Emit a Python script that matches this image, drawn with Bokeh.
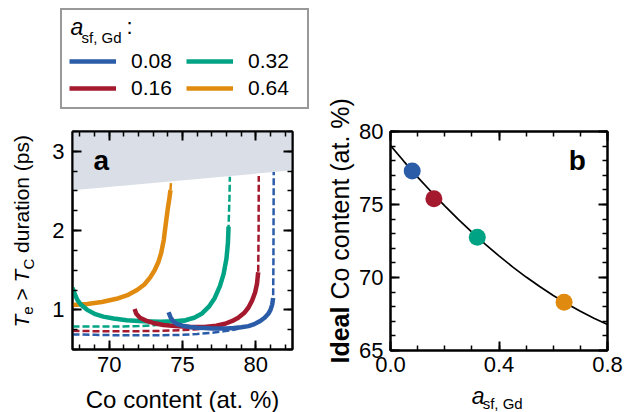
import numpy as np
from bokeh.plotting import figure
from bokeh.models import (Range1d, FixedTicker, LinearAxis, Label, Legend,
                          LegendItem, NumeralTickFormatter)
from bokeh.layouts import row, column
from bokeh.embed import file_html
from bokeh.resources import INLINE

FONT = "Liberation Sans"

# ---------------- data ----------------
a_sf_labels = ["0.08", "0.16", "0.32", "0.64"]
a_sf_values = [0.08, 0.16, 0.32, 0.64]
series_colors = ["#2b5ca8", "#a5192f", "#00a384", "#e08b10"]

# panel a : Te > Tc duration (ps) vs Co content (at. %)
blue_solid_x = [74.05, 74.2, 74.4, 74.65, 75.0, 75.5, 76.0, 76.5, 77.0, 77.5, 78.0, 78.5, 79.0,
                79.5, 79.9, 80.3, 80.6, 80.85, 81.0, 81.12, 81.18]
blue_solid_y = [0.97, 0.9, 0.85, 0.82, 0.8, 0.785, 0.775, 0.77, 0.765, 0.765, 0.765, 0.77, 0.78,
                0.795, 0.82, 0.86, 0.9, 0.95, 1.0, 1.07, 1.15]
blue_dash_x = [67.5, 69.0, 70.5, 72.0, 73.5, 75.0, 76.0, 77.0, 77.8, 78.5, 79.0, 79.5, 79.9,
               80.3, 80.6, 80.85, 81.0, 81.12, 81.18, 81.2, 81.22]
blue_dash_y = [0.69, 0.685, 0.68, 0.68, 0.68, 0.685, 0.695, 0.71, 0.73, 0.75, 0.77, 0.795, 0.82,
               0.86, 0.9, 0.95, 1.0, 1.07, 1.15, 1.6, 2.74]

red_solid_x = [71.73, 71.85, 72.1, 72.5, 73.0, 73.7, 74.5, 75.5, 76.5, 77.3, 77.9, 78.4, 78.8,
               79.2, 79.5, 79.75, 79.95, 80.08, 80.16]
red_solid_y = [1.01, 0.95, 0.9, 0.865, 0.835, 0.81, 0.795, 0.785, 0.785, 0.8, 0.825, 0.86, 0.9,
               0.96, 1.03, 1.12, 1.22, 1.33, 1.475]
red_dash_x = [67.5, 69.5, 71.5, 73.5, 75.0, 76.0, 76.8, 77.5, 78.0, 78.4, 78.8, 79.2, 79.5,
              79.75, 79.95, 80.08, 80.16, 80.19, 80.2]
red_dash_y = [0.735, 0.73, 0.73, 0.735, 0.745, 0.755, 0.77, 0.79, 0.825, 0.86, 0.9, 0.96, 1.03,
              1.12, 1.22, 1.33, 1.475, 2.0, 2.69]

green_solid_x = [67.5, 67.65, 67.85, 68.1, 68.5, 69.0, 69.6, 70.3, 71.2, 72.3, 73.5, 74.5, 75.2,
                 75.8, 76.3, 76.8, 77.2, 77.55, 77.8, 78.0, 78.1, 78.14]
green_solid_y = [1.28, 1.2, 1.12, 1.06, 1.0, 0.95, 0.915, 0.89, 0.87, 0.855, 0.85, 0.855, 0.87,
                 0.9, 0.95, 1.04, 1.15, 1.3, 1.45, 1.65, 1.85, 2.05]
green_dash_x = [67.5, 69.0, 70.5, 72.0, 73.0, 74.0, 74.8, 75.3, 75.8, 76.3, 76.8, 77.2, 77.55,
                77.8, 78.0, 78.1, 78.14, 78.2, 78.23]
green_dash_y = [0.79, 0.79, 0.79, 0.795, 0.805, 0.82, 0.84, 0.86, 0.9, 0.95, 1.04, 1.15, 1.3,
                1.45, 1.65, 1.85, 2.05, 2.4, 2.68]

orange_solid_x = [67.5, 68.5, 69.5, 70.5, 71.3, 71.9, 72.4, 72.8, 73.1, 73.35, 73.55, 73.72,
                  73.87, 74.0, 74.1, 74.18]
orange_solid_y = [1.06, 1.075, 1.1, 1.14, 1.19, 1.25, 1.32, 1.41, 1.5, 1.6, 1.72, 1.88,
                  2.1, 2.28, 2.4, 2.51]
orange_dash_x = [74.18, 74.22]
orange_dash_y = [2.51, 2.62]

shade_x = [67.5, 82.5]
shade_lower = [2.51, 2.76]
shade_upper = [3.25, 3.25]

xa_ticks = [70, 75, 80]
xa_minor = [68, 69, 70, 71, 72, 73, 74, 75, 76, 77, 78, 79, 80, 81, 82]
ya_ticks = [1, 2, 3]
ya_minor = [0.5, 0.75, 1.0, 1.25, 1.5, 1.75, 2.0, 2.25, 2.5, 2.75, 3.0, 3.25]

# panel b : ideal Co content vs a_sf,Gd
ideal_co = [77.3, 75.4, 72.75, 68.3]
fit_x = [0.0, 0.05, 0.1, 0.15, 0.2, 0.25, 0.3, 0.35, 0.4, 0.45, 0.5, 0.55, 0.6, 0.65, 0.7, 0.75, 0.8]
fit_y = [79.04, 77.94, 76.88, 75.87, 74.90, 73.98, 73.10, 72.27, 71.48, 70.73, 70.03, 69.38,
         68.77, 68.21, 67.69, 67.21, 66.78]

xb_ticks = [0.0, 0.4, 0.8]
xb_minor = [0.0, 0.1, 0.2, 0.3, 0.4, 0.5, 0.6, 0.7, 0.8]
yb_ticks = [65, 70, 75, 80]
yb_minor = [65, 66, 67, 68, 69, 70, 71, 72, 73, 74, 75, 76, 77, 78, 79, 80]

# ---------------- layout constants (page px) ----------------
XA0, XA1, YA0, YA1 = 67.5, 82.5, 0.5, 3.25
A_L, A_R, A_T, A_B = 72, 292, 131, 349
XB0, XB1, YB0, YB1 = 0.0, 0.8, 65.0, 80.0
B_L, B_R, B_T, B_B = 388, 607, 131, 350
PB_H = 382  # height of panel b figure; its x label strip fills the rest

TICK_SIZE = "22px"
AXLAB = 24
MID = 0.3465  # baseline offset from the "middle" anchor, in em


def a_xy(px, py):
    return (XA0 + (px - A_L) * (XA1 - XA0) / (A_R - A_L),
            YA0 + (A_B - py) * (YA1 - YA0) / (A_B - A_T))


def b_xy(px, py):
    return (XB0 + (px - B_L) * (XB1 - XB0) / (B_R - B_L),
            YB0 + (B_B - py) * (YB1 - YB0) / (B_B - B_T))


def page_xy(px, py):
    return (px, py)


# Arial / Liberation Sans advance widths (per 1000 em)
W_REG = {' ': 278, 'a': 556, 'b': 556, 'c': 500, 'd': 556, 'e': 556, 'f': 278, 'G': 778,
         'C': 722, 'I': 278, 'T': 611, 'i': 222, 'l': 222, 'n': 556, 'o': 556, 'p': 556,
         'r': 333, 's': 500, 't': 278, 'u': 556, '(': 333, ')': 333, '%': 889, '.': 278,
         ',': 278, ':': 278, '>': 584}
W_BOLD = {'I': 278, 'd': 611, 'e': 556, 'a': 556, 'l': 278}


def text_w(s, size, style="normal"):
    tab = W_BOLD if style == "bold" else W_REG
    return sum(tab.get(ch, W_REG.get(ch, 556)) for ch in s) * size / 1000.0


def add_pieces(p, conv, x0, y0, pieces, angle=0.0):
    """pieces: (text, size, style, baseline shift px). x0,y0: start of baseline (page px)."""
    pos = 0.0
    for text, size, style, shift in pieces:
        wstyle = "bold" if style == "bold" else "normal"
        lead = len(text) - len(text.lstrip(" "))
        start = pos + text_w(" " * lead, size)
        core = text.strip(" ")
        if angle == 0.0:
            px, py = x0 + start, y0 + shift - MID * size
        else:
            px, py = x0 + shift - MID * size, y0 - start
        x, y = conv(px, py)
        p.add_layout(Label(x=x, y=y, text=core, angle=angle, text_font=FONT,
                           text_font_size=f"{size}px", text_font_style=style,
                           text_color="black", text_align="left",
                           text_baseline="middle"))
        pos += text_w(text, size, wstyle)


def style_axis(ax, major, minor, show_labels=True, fmt=None, standoff=8):
    ax.ticker = FixedTicker(ticks=major, minor_ticks=minor)
    ax.axis_line_width = 2
    ax.axis_line_color = "black"
    ax.major_tick_in = 9
    ax.major_tick_out = 0
    ax.minor_tick_in = 5
    ax.minor_tick_out = 0
    ax.major_tick_line_width = 2
    ax.minor_tick_line_width = 1.5
    ax.major_tick_line_color = "black"
    ax.minor_tick_line_color = "black"
    ax.major_label_text_font = FONT
    ax.major_label_text_color = "black"
    if show_labels:
        ax.major_label_text_font_size = TICK_SIZE
        ax.major_label_standoff = standoff
    else:
        ax.major_label_text_color = None
        ax.major_label_text_font_size = "1px"
        ax.major_label_standoff = 0
    if fmt is not None:
        ax.formatter = fmt


def text_fig(width, height, left, top, bl=0, br=0, bt=0, bb=0):
    """Figure for text only; its frame is given page coordinates as data coordinates.
    bl/br/bt/bb are the borders (kept equal to those of aligned neighbour plots)."""
    f = figure(width=width, height=height,
               x_range=Range1d(left + bl, left + width - br),
               y_range=Range1d(top + height - bb, top + bt), output_backend="svg",
               toolbar_location=None, title=None,
               min_border_left=bl, min_border_right=br, min_border_top=bt, min_border_bottom=bb,
               x_axis_location=None, y_axis_location=None)
    f.grid.visible = False
    f.outline_line_color = None
    f.background_fill_color = "white"
    f.border_fill_color = "white"
    return f


solid_sets = [(blue_solid_x, blue_solid_y), (red_solid_x, red_solid_y),
              (green_solid_x, green_solid_y), (orange_solid_x, orange_solid_y)]
dash_sets = [(blue_dash_x, blue_dash_y), (red_dash_x, red_dash_y),
             (green_dash_x, green_dash_y), (orange_dash_x, orange_dash_y)]

# ---------------- legend figure (page 0..320 x 0..112) ----------------
leg_fig = text_fig(320, 112, 0, 0)
# the series are drawn here on ranges that keep them out of view; only the legend shows them
leg_fig.extra_x_ranges = {"series_x": Range1d(XA0, XA1)}
leg_fig.extra_y_ranges = {"series_y": Range1d(100, 200)}
leg_renderers = [leg_fig.line(sx, sy, line_color=c, line_width=4.5, line_cap="butt",
                              x_range_name="series_x", y_range_name="series_y")
                 for (sx, sy), c in zip(solid_sets, series_colors)]
items = [LegendItem(label=lab, renderers=[r]) for lab, r in zip(a_sf_labels, leg_renderers)]
legend = Legend(items=items, location=(60, 3), ncols=2, orientation="vertical",
                title=" ", title_text_font_size="22px", title_standoff=6,
                label_text_font=FONT, label_text_font_size="21px", label_text_color="black",
                glyph_width=47, glyph_height=20, label_standoff=15, label_height=20,
                label_width=52, spacing=3, padding=7, margin=0,
                border_line_color="#333333", border_line_width=2.5,
                background_fill_color="white", background_fill_alpha=0.0)
leg_fig.add_layout(legend)
add_pieces(leg_fig, page_xy, 70, 34, [("a", 23, "italic", 0)])
add_pieces(leg_fig, page_xy, 81, 34, [("sf, Gd", 15, "normal", 8)])
add_pieces(leg_fig, page_xy, 126, 34, [(":", 22, "normal", 0)])

# ---------------- y label figure for panel a (page 0..44 x 112..412) ----------------
ylab_a = text_fig(44, 300, 0, 112, bt=A_T - 112, bb=0)
add_pieces(ylab_a, page_xy, 28, 327,
           [("T", 21, "italic", 0), ("e", 15, "normal", 5), (" > ", 21, "normal", 0),
            ("T", 21, "italic", 0), ("C", 15, "normal", 5), (" duration (ps)", 21, "normal", 0)],
           angle=np.pi / 2)

# ---------------- panel a (page 44..320 x 112..384) ----------------
pa = figure(width=276, height=272, x_range=Range1d(XA0, XA1), y_range=Range1d(YA0, YA1),
            output_backend="svg", toolbar_location=None,
            min_border_left=A_L - 44, min_border_right=320 - A_R,
            min_border_top=A_T - 112, min_border_bottom=384 - A_B)
pa.xgrid.visible = False
pa.ygrid.visible = False
pa.outline_line_color = "black"
pa.outline_line_width = 2
pa.background_fill_color = "white"
pa.border_fill_color = "white"

style_axis(pa.xaxis[0], xa_ticks, xa_minor, standoff=7)
style_axis(pa.yaxis[0], ya_ticks, ya_minor, standoff=8)
top_a = LinearAxis()
right_a = LinearAxis()
style_axis(top_a, xa_ticks, xa_minor, show_labels=False)
style_axis(right_a, ya_ticks, ya_minor, show_labels=False)
pa.add_layout(top_a, "above")
pa.add_layout(right_a, "right")

pa.varea(x=shade_x, y1=shade_lower, y2=shade_upper, fill_color="#d9dee7")

for (dx, dy), col in zip(dash_sets, series_colors):
    pa.line(dx, dy, line_color=col, line_width=2.5, line_dash="7 3")

for i in [3, 2, 1, 0]:
    sx, sy = solid_sets[i]
    pa.line(sx, sy, line_color=series_colors[i], line_width=4.5,
            line_cap="butt", line_join="round")

add_pieces(pa, a_xy, 93, 170, [("a", 28, "bold", 0)])

# ---------------- x label figure for panel a (page 44..320 x 384..412) ----------------
xlab_a = text_fig(276, 28, 44, 384, bl=A_L - 44, br=320 - A_R)
xlab = "Co content (at. %)"
add_pieces(xlab_a, page_xy, (A_L + A_R) / 2 - text_w(xlab, AXLAB) / 2, 407,
           [(xlab, AXLAB, "normal", 0)])

# ---------------- y label figure for panel b (page 320..356 x 0..412) ----------------
YLB = 25
ylab_b = text_fig(36, 412, 320, 0)
add_pieces(ylab_b, page_xy, 348, 363,
           [("Ideal", YLB, "bold", 0), (" Co content (at. %)", YLB, "normal", 0)],
           angle=np.pi / 2)

# ---------------- panel b (page 356..626 x 0..PB_H) ----------------
pb = figure(width=270, height=PB_H, x_range=Range1d(XB0, XB1), y_range=Range1d(YB0, YB1),
            output_backend="svg", toolbar_location=None,
            min_border_left=B_L - 356, min_border_right=626 - B_R,
            min_border_top=B_T, min_border_bottom=PB_H - B_B)
pb.xgrid.visible = False
pb.ygrid.visible = False
pb.outline_line_color = "black"
pb.outline_line_width = 2
pb.background_fill_color = "white"
pb.border_fill_color = "white"

style_axis(pb.xaxis[0], xb_ticks, xb_minor, fmt=NumeralTickFormatter(format="0.0"), standoff=6)
style_axis(pb.yaxis[0], yb_ticks, yb_minor, standoff=7)
top_b = LinearAxis()
right_b = LinearAxis()
style_axis(top_b, xb_ticks, xb_minor, show_labels=False)
style_axis(right_b, yb_ticks, yb_minor, show_labels=False)
pb.add_layout(top_b, "above")
pb.add_layout(right_b, "right")

pb.line(fit_x, fit_y, line_color="black", line_width=1.7)
pb.scatter(a_sf_values, ideal_co, size=17, fill_color=series_colors, line_color=None)

add_pieces(pb, b_xy, 568, 170, [("b", 28, "bold", 0)])

# ---------------- x label figure for panel b (page 356..626 x PB_H..412) ----------------
xlab_b = text_fig(270, 412 - PB_H, 356, PB_H, bl=B_L - 356, br=626 - B_R)
add_pieces(xlab_b, page_xy, 470, 403, [("a", 23, "italic", 0)])
add_pieces(xlab_b, page_xy, 481, 403, [("sf, Gd", 15, "normal", 5)])

layout = row(column(leg_fig, row(ylab_a, column(pa, xlab_a))),
             row(ylab_b, column(pb, xlab_b)))
open("out.html", "w").write(file_html(layout, INLINE))
